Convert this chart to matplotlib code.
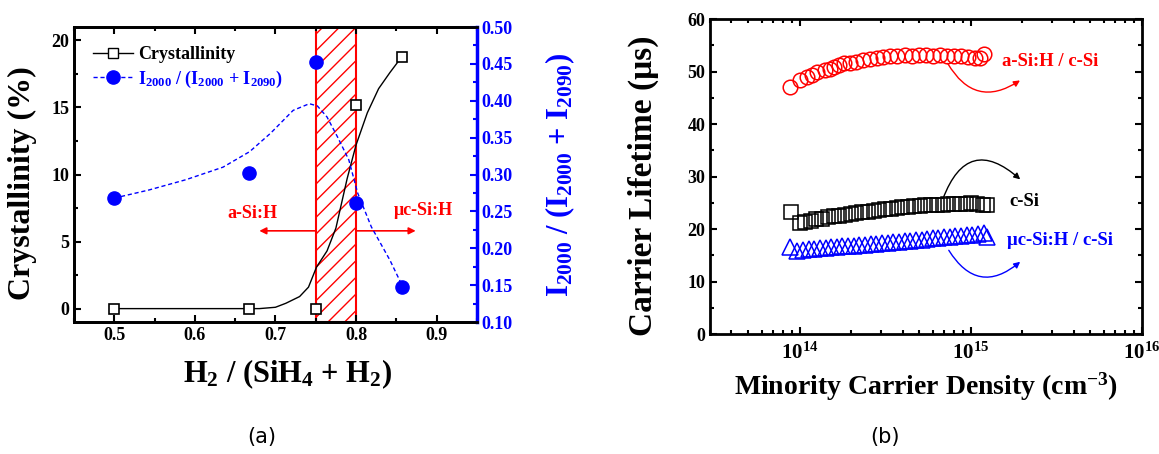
import matplotlib

matplotlib.use("Agg")
import matplotlib.pyplot as plt
from matplotlib.patches import Rectangle, FancyArrowPatch
from matplotlib.ticker import MultipleLocator, LogLocator, NullFormatter, FormatStrFormatter

plt.rcParams["font.family"] = ["Liberation Serif", "DejaVu Serif"]
plt.rcParams["font.weight"] = "bold"
plt.rcParams["mathtext.fontset"] = "custom"
plt.rcParams["mathtext.rm"] = "Liberation Serif:bold"
plt.rcParams["mathtext.it"] = "Liberation Serif:bold"
plt.rcParams["mathtext.bf"] = "Liberation Serif:bold"
plt.rcParams["hatch.linewidth"] = 1.0

# (a) crystallinity and hydride ratio vs hydrogen dilution
ratio = [0.5, 0.667, 0.75, 0.8, 0.857]
crystallinity = [0, 0, 0, 15.2, 18.8]
i2000_ratio = [0.268, 0.302, 0.453, 0.262, 0.148]

# guide curves
cryst_fit_x = [0.5, 0.60, 0.68, 0.70, 0.713, 0.73, 0.741, 0.751, 0.764, 0.775, 0.789,
               0.80, 0.814, 0.828, 0.842, 0.857]
cryst_fit_y = [0, 0, 0, 0.1, 0.4, 0.9, 1.6, 3.1, 4.3, 6.0, 9.7, 12.2, 14.6, 16.4, 17.6, 18.8]
ratio_fit_x = [0.5, 0.543, 0.589, 0.635, 0.668, 0.694, 0.722, 0.742, 0.752, 0.764, 0.777,
               0.791, 0.802, 0.819, 0.842, 0.857]
ratio_fit_y = [0.268, 0.279, 0.293, 0.310, 0.331, 0.356, 0.387, 0.396, 0.393, 0.378, 0.351,
               0.320, 0.275, 0.229, 0.184, 0.150]

# (b) carrier lifetime vs minority carrier density (x in 1e14 cm^-3)
dens_a = [0.885, 1.0, 1.11, 1.19, 1.27, 1.40, 1.50, 1.60, 1.71, 1.83, 1.96, 2.15, 2.34, 2.57,
          2.82, 3.06, 3.36, 3.69, 4.11, 4.52, 4.97, 5.46, 6.0, 6.59, 7.24, 7.96, 8.74, 9.6,
          10.55, 11.3, 11.9]
life_a = [47.0, 48.4, 49.0, 49.3, 50.0, 50.3, 50.5, 50.9, 51.2, 51.6, 51.6, 51.8, 52.2, 52.4,
          52.6, 52.8, 52.9, 52.9, 53.1, 53.0, 53.1, 53.2, 53.0, 53.1, 53.0, 52.9, 53.0, 52.8,
          52.6, 52.5, 53.3]
dens_c = [0.89, 1.0, 1.08, 1.16, 1.25, 1.36, 1.47, 1.58, 1.71, 1.84, 1.99, 2.15, 2.32, 2.51,
          2.71, 2.93, 3.16, 3.42, 3.69, 3.99, 4.31, 4.65, 5.03, 5.43, 5.87, 6.34, 6.85, 7.40,
          8.0, 8.64, 9.33, 10.1, 10.9, 11.8, 12.5]
life_c = [23.2, 21.2, 21.4, 21.6, 21.9, 22.0, 22.2, 22.4, 22.5, 22.7, 22.9, 23.0, 23.2, 23.3,
          23.5, 23.6, 23.8, 23.9, 24.0, 24.1, 24.2, 24.3, 24.4, 24.5, 24.5, 24.6, 24.6, 24.7,
          24.7, 24.8, 24.8, 24.9, 24.8, 24.6, 24.5]
dens_mc = [0.88, 0.97, 1.05, 1.13, 1.22, 1.32, 1.42, 1.53, 1.65, 1.78, 1.92, 2.07, 2.24, 2.41,
           2.60, 2.81, 3.03, 3.27, 3.53, 3.81, 4.11, 4.43, 4.78, 5.16, 5.57, 6.01, 6.48, 6.99,
           7.55, 8.14, 8.79, 9.48, 10.2, 11.0, 11.9, 12.5]
life_mc = [16.5, 15.8, 16.0, 16.1, 16.2, 16.3, 16.4, 16.5, 16.6, 16.7, 16.8, 16.8, 16.9, 17.0,
           17.1, 17.2, 17.3, 17.4, 17.5, 17.6, 17.7, 17.8, 17.9, 18.0, 18.1, 18.2, 18.3, 18.4,
           18.5, 18.6, 18.7, 18.8, 18.9, 19.0, 19.2, 18.5]

BLUE = "#0000ff"
RED = "#ff0000"

fig = plt.figure(figsize=(11.59, 4.54), dpi=100)
ax1 = fig.add_axes([0.0638, 0.2907, 0.3477, 0.6498])
ax2 = ax1.twinx()
ax3 = fig.add_axes([0.6126, 0.2643, 0.3727, 0.6938])

# ---- panel (a)
plt.rcParams["hatch.color"] = RED
ax1.add_patch(Rectangle((0.75, -1), 0.05, 22, facecolor="white", edgecolor=RED,
                        hatch="//", linewidth=1.5, zorder=1))
ax1.plot(cryst_fit_x, cryst_fit_y, color="black", lw=1.0, zorder=3)
ax1.plot(ratio, crystallinity, ls="none", marker="s", ms=7.5, mfc="white", mec="black",
         mew=1.2, zorder=4)
ax2.plot(ratio_fit_x, ratio_fit_y, color=BLUE, ls=(0, (3, 2)), lw=1.0, zorder=3)
ax2.plot(ratio, i2000_ratio, ls="none", marker="o", ms=9.5, color=BLUE, zorder=4)

ax1.set_xlim(0.45, 0.95)
ax1.set_ylim(-1, 21)
ax2.set_ylim(0.10, 0.50)
ax1.xaxis.set_major_locator(MultipleLocator(0.1))
ax1.xaxis.set_minor_locator(MultipleLocator(0.05))
ax1.yaxis.set_major_locator(MultipleLocator(5))
ax1.yaxis.set_minor_locator(MultipleLocator(2.5))
ax2.yaxis.set_major_locator(MultipleLocator(0.05))
ax2.yaxis.set_minor_locator(MultipleLocator(0.025))
ax2.yaxis.set_major_formatter(FormatStrFormatter("%.2f"))

ax1.tick_params(which="both", direction="in", top=True, right=False, width=1.5, labelsize=13)
ax1.tick_params(which="major", length=5)
ax1.tick_params(which="minor", length=3)
ax2.tick_params(which="both", direction="in", colors=BLUE, width=1.5, labelsize=13)
ax2.tick_params(which="major", length=5)
ax2.tick_params(which="minor", length=3)
for s in ax1.spines.values():
    s.set_linewidth(2)
for s in ax2.spines.values():
    s.set_linewidth(2)
ax2.spines["right"].set_color(BLUE)
ax2.spines["right"].set_linewidth(2.5)

ax1.set_ylabel("Crystallinity (%)", fontsize=23, fontweight="bold")
ax1.yaxis.set_label_coords(-0.092, 0.47)
ax1.set_xlabel(r"H$_2$ / (SiH$_4$ + H$_2$)", fontsize=22, fontweight="bold")
ax1.xaxis.set_label_coords(0.53, -0.12)
ax2.set_ylabel(r"I$_{2000}$ / (I$_{2000}$ + I$_{2090}$)", fontsize=22, fontweight="bold",
               color=BLUE, rotation=90)
ax2.yaxis.set_label_coords(1.165, 0.5)

ax1.annotate("", xy=(0.68, 5.8), xytext=(0.75, 5.8),
             arrowprops=dict(arrowstyle="-|>", color=RED, lw=1.2, mutation_scale=10,
                             shrinkA=0, shrinkB=0))
ax1.annotate("", xy=(0.874, 5.8), xytext=(0.8, 5.8),
             arrowprops=dict(arrowstyle="-|>", color=RED, lw=1.2, mutation_scale=10,
                             shrinkA=0, shrinkB=0))
ax1.text(0.672, 7.1, "a-Si:H", color=RED, fontsize=13, ha="center", va="center")
ax1.text(0.884, 7.3, "μc-Si:H", color=RED, fontsize=13, ha="center", va="center")

h1, = ax1.plot([], [], color="black", lw=1.0, marker="s", ms=7.5, mfc="white", mec="black")
h2, = ax1.plot([], [], color=BLUE, ls=(0, (3, 2)), lw=1.0, marker="o", ms=9.5)
leg = ax1.legend([h1, h2], ["Crystallinity", r"I$_{2000}$ / (I$_{2000}$ + I$_{2090}$)"],
                 loc="upper left", bbox_to_anchor=(0.03, 0.96), frameon=False, fontsize=13,
                 handlelength=2.2, handletextpad=0.3, borderaxespad=0, labelspacing=0.3)
leg.get_texts()[1].set_color(BLUE)

# ---- panel (b)
ax3.plot([d * 1e14 for d in dens_a], life_a, ls="none", marker="o", ms=10.5, mfc="none",
         mec=RED, mew=1.1)
ax3.plot([d * 1e14 for d in dens_c], life_c, ls="none", marker="s", ms=10, mfc="none",
         mec="black", mew=1.1)
ax3.plot([d * 1e14 for d in dens_mc], life_mc, ls="none", marker="^", ms=11, mfc="none",
         mec=BLUE, mew=1.1)
ax3.set_xscale("log")
ax3.set_xlim(3e13, 1e16)
ax3.set_ylim(0, 60)
ax3.yaxis.set_major_locator(MultipleLocator(10))
ax3.yaxis.set_minor_locator(MultipleLocator(5))
ax3.xaxis.set_major_locator(LogLocator(base=10, numticks=10))
ax3.xaxis.set_minor_locator(LogLocator(base=10, subs=range(2, 10), numticks=10))
ax3.xaxis.set_minor_formatter(NullFormatter())
ax3.tick_params(which="both", direction="in", top=True, right=True, width=1.5, labelsize=13)
ax3.tick_params(axis="x", labelsize=15, pad=6)
ax3.tick_params(which="major", length=5)
ax3.tick_params(which="minor", length=3)
for s in ax3.spines.values():
    s.set_linewidth(2)

ax3.set_ylabel("Carrier Lifetime (μs)", fontsize=24, fontweight="bold")
ax3.yaxis.set_label_coords(-0.118, 0.47)
ax3.set_xlabel(r"Minority Carrier Density (cm$^{-3}$)", fontsize=20, fontweight="bold")
ax3.xaxis.set_label_coords(0.5, -0.115)

for start, end, rad, col in [((7.2e14, 52.0), (2.0e15, 48.6), 0.55, RED),
                             ((6.8e14, 25.3), (2.0e15, 29.1), -0.75, "black"),
                             ((7.3e14, 16.4), (2.0e15, 14.1), 0.6, BLUE)]:
    ax3.add_patch(FancyArrowPatch(start, end, connectionstyle=f"arc3,rad={rad}",
                                  arrowstyle="-|>", mutation_scale=9, color=col, lw=1.0))

ax3.text(1.52e15, 52, "a-Si:H / c-Si", color=RED, fontsize=13.5, va="center")
ax3.text(1.69e15, 25.3, "c-Si", color="black", fontsize=13.5, va="center")
ax3.text(1.62e15, 17.9, "μc-Si:H / c-Si", color=BLUE, fontsize=13.5, va="center")

fig.text(0.226, 0.037, "(a)", fontsize=15, fontweight="normal", family="DejaVu Sans",
         ha="center", va="center")
fig.text(0.764, 0.037, "(b)", fontsize=15, fontweight="normal", family="DejaVu Sans",
         ha="center", va="center")

fig.savefig("out.png", dpi=100)
